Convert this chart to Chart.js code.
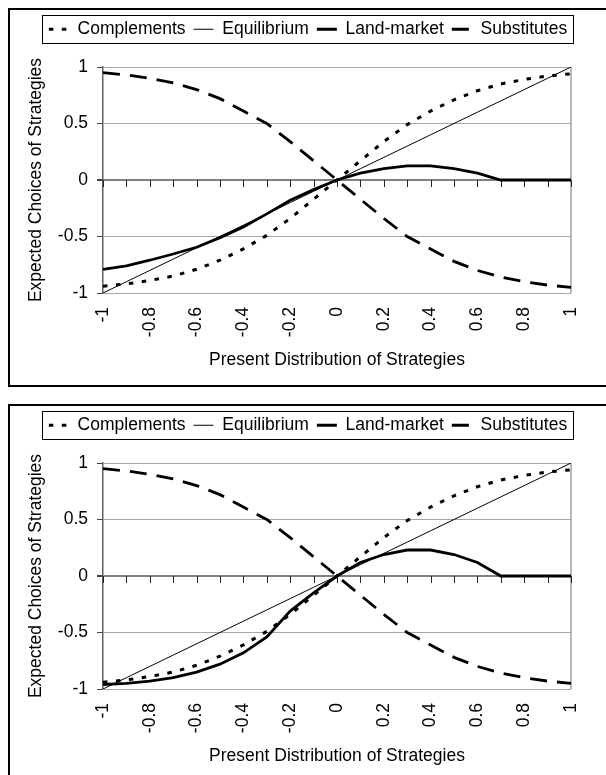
<!DOCTYPE html>
<html>
<head>
<meta charset="utf-8">
<script src="https://cdn.jsdelivr.net/npm/chart.js@4.4.0/dist/chart.umd.min.js"></script>
<style>
  html, body { margin: 0; padding: 0; background: #fff; overflow: hidden; }
  .box { position: absolute; left: 8px; width: 596px; height: 375px; border: 2px solid #000; border-right: none; background: #fff; }
  #box1 { top: 8px; }
  #box2 { top: 404px; }
  .box canvas { display: block; }
</style>
</head>
<body>
<div class="box" id="box1"><canvas id="topChart" width="596" height="375"></canvas></div>
<div class="box" id="box2"><canvas id="bottomChart" width="596" height="375"></canvas></div>
<script>
// x categories (present distribution), one point every 0.1
const xValues = [-1, -0.9, -0.8, -0.7, -0.6, -0.5, -0.4, -0.3, -0.2, -0.1, 0,
                 0.1, 0.2, 0.3, 0.4, 0.5, 0.6, 0.7, 0.8, 0.9, 1];
const seriesNames = ['Complements', 'Equilibrium', 'Land-market', 'Substitutes'];

const complements = [-0.94, -0.92, -0.89, -0.85, -0.79, -0.71, -0.61, -0.49, -0.34, -0.17, 0,
                     0.17, 0.34, 0.49, 0.61, 0.71, 0.79, 0.85, 0.89, 0.92, 0.94];
const equilibrium = [-1, -0.9, -0.8, -0.7, -0.6, -0.5, -0.4, -0.3, -0.2, -0.1, 0,
                     0.1, 0.2, 0.3, 0.4, 0.5, 0.6, 0.7, 0.8, 0.9, 1];
const substitutes = [0.95, 0.93, 0.90, 0.86, 0.80, 0.72, 0.61, 0.50, 0.34, 0.17, 0,
                     -0.17, -0.34, -0.50, -0.61, -0.72, -0.80, -0.86, -0.90, -0.93, -0.95];
// land-market curve differs between the two panels
const landMarketTop = [-0.79, -0.76, -0.71, -0.655, -0.595, -0.51, -0.415, -0.30, -0.18, -0.085, 0,
                       0.06, 0.10, 0.125, 0.125, 0.10, 0.06, 0, 0, 0, 0];
const landMarketBottom = [-0.96, -0.95, -0.93, -0.90, -0.85, -0.78, -0.68, -0.54, -0.31, -0.15, 0,
                          0.12, 0.19, 0.23, 0.23, 0.19, 0.12, 0, 0, 0, 0];

const FONT = 17.5;
Chart.defaults.font.family = "'Liberation Sans', Arial, sans-serif";
Chart.defaults.font.size = FONT;
Chart.defaults.color = '#000';

// extra room under the legend, frame round it, plot edge and ticks on the zero line
const excelLook = {
  id: 'excelLook',
  beforeInit(chart) {
    const fit = chart.legend.fit;
    chart.legend.fit = function () { fit.call(this); this.height = 54.5; };
  },
  beforeDatasetsDraw(chart) {
    const { ctx, chartArea: a, scales: { x, y } } = chart;
    const y0 = y.getPixelForValue(0);
    ctx.save();
    ctx.strokeStyle = '#a0a0a0';
    ctx.lineWidth = 1.5;
    ctx.beginPath();
    ctx.moveTo(a.right, a.top);
    ctx.lineTo(a.right, a.bottom);
    ctx.stroke();
    ctx.strokeStyle = '#222';
    ctx.lineWidth = 1;
    xValues.forEach((v, i) => {
      const px = Math.round(x.getPixelForValue(i)) + 0.5;
      ctx.beginPath();
      ctx.moveTo(px, y0);
      ctx.lineTo(px, y0 + 7);
      ctx.stroke();
    });
    ctx.restore();
  },
  afterDraw(chart) {
    const boxes = chart.legend.legendHitBoxes;
    if (!boxes || !boxes.length) return;
    const left = Math.min(...boxes.map(b => b.left));
    const right = Math.max(...boxes.map(b => b.left + b.width));
    const mid = boxes[0].top + FONT / 2;
    const ctx = chart.ctx;
    ctx.save();
    ctx.strokeStyle = '#000';
    ctx.lineWidth = 1;
    ctx.strokeRect(Math.round(left) - 6.5, Math.round(mid) - 13.5, Math.round(right - left) + 13, 28);
    ctx.restore();
  }
};

function makeChart(id, landMarket) {
  const values = [complements, equilibrium, landMarket, substitutes];
  const styles = [
    { borderWidth: 3, borderDash: [4.5, 8.5] },
    { borderWidth: 1, borderDash: [] },
    { borderWidth: 2.8, borderDash: [] },
    { borderWidth: 2.8, borderDash: [17, 10] }
  ];
  const datasets = seriesNames.map((name, i) => ({
    label: name,
    data: values[i],
    borderColor: '#000',
    backgroundColor: '#000',
    borderWidth: styles[i].borderWidth,
    borderDash: styles[i].borderDash,
    pointRadius: 0,
    tension: 0,
    fill: false
  }));

  return new Chart(document.getElementById(id), {
    type: 'line',
    data: { labels: xValues.map(String), datasets: datasets },
    options: {
      responsive: false,
      animation: false,
      layout: { padding: { top: 2.5, left: 0, right: 0, bottom: 0 } },
      plugins: {
        legend: {
          position: 'top',
          labels: {
            usePointStyle: true,
            pointStyleWidth: 20,
            padding: 8,
            color: '#000',
            font: { size: FONT },
            generateLabels: ch => ch.data.datasets.map((ds, i) => ({
              text: ds.label,
              datasetIndex: i,
              fillStyle: ds.borderColor,
              strokeStyle: ds.borderColor,
              lineWidth: ds.borderWidth,
              lineDash: ds.borderDash,
              pointStyle: 'line',
              fontColor: '#000',
              hidden: false
            }))
          }
        },
        tooltip: { enabled: false }
      },
      scales: {
        x: {
          type: 'category',
          offset: false,
          grid: { display: false, drawTicks: false },
          border: { display: false },
          ticks: {
            autoSkip: false,
            minRotation: 90,
            maxRotation: 90,
            padding: 14,
            font: { size: FONT },
            callback: function (val, idx) { return idx % 2 === 0 ? this.getLabelForValue(val) : ''; }
          },
          title: {
            display: true,
            text: 'Present Distribution of Strategies',
            font: { size: FONT },
            padding: { top: 4, bottom: 14.5 }
          },
          afterFit: s => { s.height = 92; }
        },
        y: {
          min: -1,
          max: 1,
          ticks: { stepSize: 0.5, padding: 9, font: { size: FONT }, callback: v => String(v) },
          grid: {
            color: c => (c.tick && c.tick.value === 0 ? '#808080' : '#a6a6a6'),
            lineWidth: c => (c.tick && c.tick.value === 0 ? 2 : 1),
            tickColor: '#404040',
            tickLength: 6
          },
          border: { display: true, color: '#606060', width: 1.5 },
          title: {
            display: true,
            text: 'Expected Choices of Strategies',
            font: { size: FONT },
            padding: { top: 16, bottom: 0 }
          },
          afterFit: s => { s.width = 93; }
        },
        yRight: {
          position: 'right',
          grid: { display: false },
          border: { display: false },
          ticks: { display: false },
          afterFit: s => { s.width = 24; }
        }
      }
    },
    plugins: [excelLook]
  });
}

makeChart('topChart', landMarketTop);
makeChart('bottomChart', landMarketBottom);
</script>
</body>
</html>
